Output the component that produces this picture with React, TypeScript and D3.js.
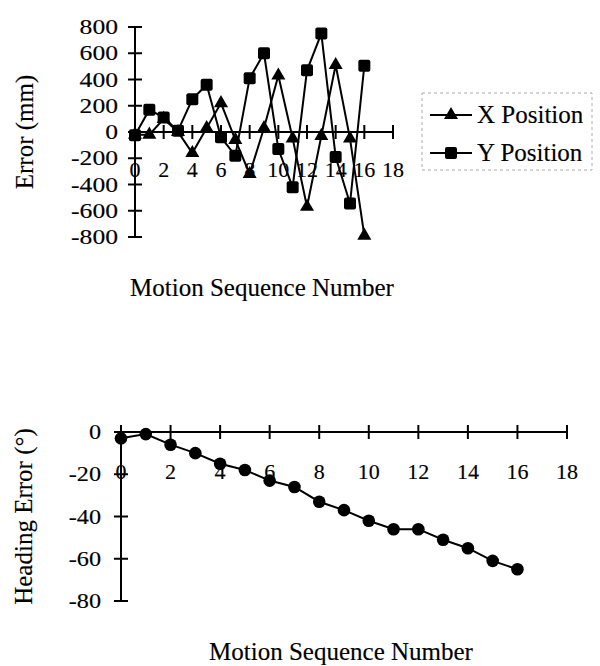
import React, { useEffect, useRef } from 'react';
import * as d3 from 'd3';

// motion sequence numbers
const sequence = [0, 1, 2, 3, 4, 5, 6, 7, 8, 9, 10, 11, 12, 13, 14, 15, 16];

// top chart: position errors (mm)
const xPosition = [-20, -20, 100, 0, -160, 30, 220, -60, -320, 30, 430, -50, -570, -30, 510, -50, -790];
const yPosition = [-25, 170, 110, 10, 250, 360, -40, -180, 410, 600, -130, -420, 470, 750, -190, -545, 505];

// bottom chart: heading error (degrees)
const heading = [-3, -1, -6, -10, -15, -18, -23, -26, -33, -37, -42, -46, -46, -51, -55, -61, -65];

const xTicks = [0, 2, 4, 6, 8, 10, 12, 14, 16, 18];
const errorTicks = [-800, -600, -400, -200, 0, 200, 400, 600, 800];
const headingTicks = [-80, -60, -40, -20, 0];

const seriesNames = ['X Position', 'Y Position'];

const FONT = 'Liberation Serif';

const App = () => {
  const svgRef = useRef(null);

  useEffect(() => {
    const svg = d3.select(svgRef.current);
    svg.selectAll('*').remove();

    const tri = d3.symbol(d3.symbolTriangle, 85)();
    // scanned look: slightly heavier glyphs
    const txt = (g) => g.append('text')
      .style('font-family', FONT)
      .attr('fill', '#000')
      .attr('stroke', '#000')
      .attr('stroke-width', 0.15);

    // ---------- top chart ----------
    const x1 = d3.scaleLinear().domain([0, 18]).range([135, 393]);
    const y1 = d3.scaleLinear().domain([-800, 800]).range([237, 27]);
    const top = svg.append('g');

    // axes
    top.append('line')
      .attr('x1', x1(0)).attr('x2', x1(18))
      .attr('y1', y1(0)).attr('y2', y1(0))
      .attr('stroke', '#000').attr('stroke-width', 2);
    top.append('line')
      .attr('x1', x1(0)).attr('x2', x1(0))
      .attr('y1', y1(800)).attr('y2', y1(-800))
      .attr('stroke', '#000').attr('stroke-width', 2);

    top.selectAll('.xt').data(xTicks).enter().append('line')
      .attr('x1', d => x1(d)).attr('x2', d => x1(d))
      .attr('y1', y1(0) - 7).attr('y2', y1(0) + 7)
      .attr('stroke', '#000').attr('stroke-width', 2);
    top.selectAll('.yt').data(errorTicks).enter().append('line')
      .attr('x1', x1(0) - 7).attr('x2', x1(0) + 7)
      .attr('y1', d => y1(d)).attr('y2', d => y1(d))
      .attr('stroke', '#000').attr('stroke-width', 2);

    xTicks.forEach(d => {
      txt(top).attr('x', x1(d)).attr('y', 177)
        .attr('text-anchor', 'middle').attr('font-size', 22)
        .text(d);
    });
    errorTicks.forEach(d => {
      txt(top)
        .attr('transform', `translate(118,${y1(d) + 7}) scale(1.22,1)`)
        .attr('text-anchor', 'end').attr('font-size', 21)
        .text(d);
    });

    txt(top)
      .attr('transform', `translate(33,${(y1(800) + y1(-800)) / 2}) rotate(-90)`)
      .attr('text-anchor', 'middle').attr('font-size', 25)
      .text('Error (mm)');
    txt(top)
      .attr('x', 262).attr('y', 296)
      .attr('text-anchor', 'middle').attr('font-size', 25)
      .text('Motion Sequence Number');

    const line1 = (vals) => d3.line()
      .x((d, i) => x1(sequence[i]))
      .y(d => y1(d))(vals);

    top.append('path').attr('d', line1(xPosition))
      .attr('fill', 'none').attr('stroke', '#000').attr('stroke-width', 2);
    top.append('path').attr('d', line1(yPosition))
      .attr('fill', 'none').attr('stroke', '#000').attr('stroke-width', 2);

    top.selectAll('.tri').data(xPosition).enter().append('path')
      .attr('d', tri)
      .attr('transform', (d, i) => `translate(${x1(sequence[i])},${y1(d)})`)
      .attr('fill', '#000');
    top.selectAll('.sq').data(yPosition).enter().append('rect')
      .attr('x', (d, i) => x1(sequence[i]) - 6)
      .attr('y', d => y1(d) - 6)
      .attr('width', 12).attr('height', 12).attr('rx', 2)
      .attr('fill', '#000');

    // legend
    const lg = top.append('g');
    lg.append('rect')
      .attr('x', 422).attr('y', 93).attr('width', 170).attr('height', 77)
      .attr('fill', 'none').attr('stroke', '#aaa').attr('stroke-width', 1)
      .attr('stroke-dasharray', '3,3');
    seriesNames.forEach((name, i) => {
      const ly = 115 + i * 38;
      lg.append('line')
        .attr('x1', 430).attr('x2', 472).attr('y1', ly).attr('y2', ly)
        .attr('stroke', '#000').attr('stroke-width', 2);
      if (i === 0) {
        lg.append('path').attr('d', tri)
          .attr('transform', `translate(451,${ly})`).attr('fill', '#000');
      } else {
        lg.append('rect')
          .attr('x', 445).attr('y', ly - 6).attr('width', 12).attr('height', 12)
          .attr('rx', 2).attr('fill', '#000');
      }
      txt(lg)
        .attr('x', 477).attr('y', ly + 8)
        .attr('font-size', 25)
        .text(name);
    });

    // ---------- bottom chart ----------
    const x2 = d3.scaleLinear().domain([0, 18]).range([121, 567]);
    const y2 = d3.scaleLinear().domain([-80, 0]).range([601, 432]);
    const bot = svg.append('g');

    bot.append('line')
      .attr('x1', x2(0)).attr('x2', x2(18))
      .attr('y1', y2(0)).attr('y2', y2(0))
      .attr('stroke', '#000').attr('stroke-width', 2);
    bot.append('line')
      .attr('x1', x2(0)).attr('x2', x2(0))
      .attr('y1', y2(0)).attr('y2', y2(-80))
      .attr('stroke', '#000').attr('stroke-width', 2);

    bot.selectAll('.xt').data(xTicks).enter().append('line')
      .attr('x1', d => x2(d)).attr('x2', d => x2(d))
      .attr('y1', y2(0) - 7).attr('y2', y2(0) + 7)
      .attr('stroke', '#000').attr('stroke-width', 2);
    bot.selectAll('.yt').data(headingTicks).enter().append('line')
      .attr('x1', x2(0) - 7).attr('x2', x2(0) + 7)
      .attr('y1', d => y2(d)).attr('y2', d => y2(d))
      .attr('stroke', '#000').attr('stroke-width', 2);

    xTicks.forEach(d => {
      txt(bot).attr('x', x2(d)).attr('y', 479)
        .attr('text-anchor', 'middle').attr('font-size', 22)
        .text(d);
    });
    headingTicks.forEach(d => {
      txt(bot)
        .attr('transform', `translate(101,${y2(d) + 7}) scale(1.1,1)`)
        .attr('text-anchor', 'end').attr('font-size', 22)
        .text(d);
    });

    txt(bot)
      .attr('transform', `translate(32,${(y2(0) + y2(-80)) / 2}) rotate(-90)`)
      .attr('text-anchor', 'middle').attr('font-size', 25)
      .text('Heading Error (°)');
    txt(bot)
      .attr('x', 341).attr('y', 660)
      .attr('text-anchor', 'middle').attr('font-size', 25)
      .text('Motion Sequence Number');

    bot.append('path')
      .attr('d', d3.line().x((d, i) => x2(sequence[i])).y(d => y2(d))(heading))
      .attr('fill', 'none').attr('stroke', '#000').attr('stroke-width', 2);
    bot.selectAll('.dot').data(heading).enter().append('circle')
      .attr('cx', (d, i) => x2(sequence[i]))
      .attr('cy', d => y2(d))
      .attr('r', 6.3)
      .attr('fill', '#000');
  }, []);

  return (
    <svg
      ref={svgRef}
      width={600}
      height={666}
      style={{ position: 'absolute', left: 0, top: 0, background: '#fff' }}
    />
  );
};

export default App;
